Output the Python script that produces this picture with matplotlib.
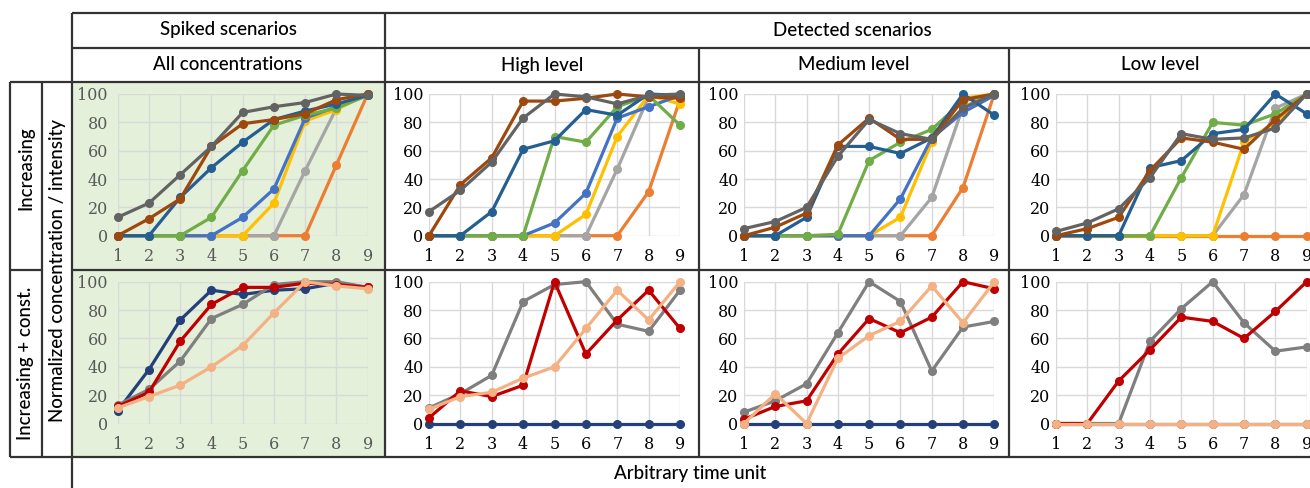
import numpy as np
import matplotlib
matplotlib.use("Agg")
import matplotlib.pyplot as plt
from matplotlib.patches import Rectangle

W, H = 1310, 488
x = [1, 2, 3, 4, 5, 6, 7, 8, 9]
nan = np.nan

# ---- Row 1 ("Increasing"): series in drawing order ----
inc_series = ["orange", "lgray", "gold", "blue", "green", "dblue", "brown", "dgray"]
inc_colors = ["#ED7D31", "#A5A5A5", "#FFC000", "#4472C4", "#70AD47", "#255E91", "#9E480E", "#636363"]

spiked_inc = [
    [0, 0, 0, 0, 0, 0, 0, 50, 100],
    [0, 0, 0, 0, 0, 0, 46, 90, 100],
    [0, 0, 0, 0, 0, 23, 81, 89, 100],
    [0, 0, 0, 0, 13, 33, 83, 91, 100],
    [0, 0, 0, 13, 46, 78, 85, 90, 99],
    [0, 0, 27, 48, 66, 82, 88, 93, 99],
    [0, 12, 26, 63, 79, 82, 86, 96, 100],
    [13, 23, 43, 63, 87, 91, 94, 100, 99],
]
high_inc = [
    [0, 0, 0, 0, 0, 0, 0, 31, 96],
    [0, 0, 0, 0, 0, 0, 47, 98, 99],
    [0, 0, 0, 0, 0, 15, 70, 99, 93],
    [0, 0, 0, 0, 9, 30, 83, 91, 99],
    [0, 0, 0, 0, 70, 66, 91, 99, 78],
    [0, 0, 17, 61, 67, 89, 85, 100, 99],
    [0, 36, 55, 95, 95, 97, 100, 98, 97],
    [17, 32, 52, 83, 100, 98, 93, 99, 100],
]
medium_inc = [
    [0, 0, 0, 0, 0, 0, 0, 34, 100],
    [0, 0, 0, 0, 0, 0, 27, 91, 100],
    [0, 0, 0, 0, 0, 13, 66, 97, 100],
    [0, 0, 0, 0, 0, 26, 69, 87, 99],
    [0, 0, 0, 1, 53, 66, 75, 95, 100],
    [0, 0, 13, 63, 63, 58, 69, 100, 85],
    [0, 6, 16, 64, 83, 68, 68, 96, 100],
    [5, 10, 20, 56, 82, 72, 68, 90, 100],
]
low_inc = [
    [0, 0, 0, 0, 0, 0, 0, 0, 0],
    [0, 0, 0, 0, 0, 0, 29, 90, 100],
    [0, 0, 0, 0, 0, 0, 66, 80, 100],
    [nan, nan, nan, nan, nan, nan, nan, nan, nan],
    [0, 0, 0, 0, 41, 80, 78, 86, 100],
    [0, 0, 0, 48, 53, 72, 75, 100, 86],
    [0, 5, 13, 46, 69, 66, 61, 82, 100],
    [3, 9, 19, 41, 72, 68, 69, 76, 100],
]

# ---- Row 2 ("Increasing + const.") ----
const_series = ["navy", "gray", "red", "salmon"]
const_colors = ["#23407A", "#7F7F7F", "#C00000", "#F4B183"]

spiked_const = [
    [9, 38, 73, 94, 91, 94, 95, 99, 96],
    [13, 24, 44, 74, 84, 98, 100, 100, 96],
    [12, 22, 58, 84, 96, 96, 99, 98, 96],
    [11, 19, 27, 40, 55, 78, 100, 97, 95],
]
high_const = [
    [0, 0, 0, 0, 0, 0, 0, 0, 0],
    [11, 21, 34, 86, 98, 100, 70, 65, 94],
    [4, 23, 19, 27, 100, 49, 73, 94, 67],
    [10, 19, 22, 32, 40, 67, 94, 73, 100],
]
medium_const = [
    [0, 0, 0, 0, 0, 0, 0, 0, 0],
    [8, 16, 28, 64, 100, 86, 37, 68, 72],
    [3, 12, 16, 49, 74, 64, 75, 100, 95],
    [0, 21, 0, 46, 62, 72, 97, 71, 100],
]
low_const = [
    [0, 0, 0, 0, 0, 0, 0, 0, 0],
    [0, 0, 0, 58, 81, 100, 71, 51, 54],
    [0, 0, 30, 52, 75, 72, 60, 79, 100],
    [0, 0, 0, 0, 0, 0, 0, 0, 0],
]

y_ticks = [0, 20, 40, 60, 80, 100]

col_headers = ["All concentrations", "High level", "Medium level", "Low level"]
top_headers = ["Spiked scenarios", "Detected scenarios"]
row_headers = ["Increasing", "Increasing + const."]
y_label = "Normalized concentration / intensity"
x_label = "Arbitrary time unit"

HEAD_FONT = ["Lato", "DejaVu Sans"]
TICK_FONT = ["DejaVu Serif"]

fig = plt.figure(figsize=(W / 100, H / 100), dpi=100)

# background / table axes in pixel coordinates
bg = fig.add_axes([0, 0, 1, 1], zorder=0)
bg.set_xlim(0, W)
bg.set_ylim(H, 0)
bg.axis("off")

# green background for spiked column
bg.add_patch(Rectangle((72, 82), 385 - 72, 457 - 82, facecolor="#E4F0DA", edgecolor="none", zorder=0))

lc = "#333333"
lw = 1.6
def hline(y, x0, x1):
    bg.plot([x0, x1], [y, y], color=lc, lw=lw, zorder=5, solid_capstyle="butt")
def vline(xx, y0, y1):
    bg.plot([xx, xx], [y0, y1], color=lc, lw=lw, zorder=5, solid_capstyle="butt")

hline(13, 72, W)
hline(48, 72, W)
hline(82, 10, W)
hline(270, 10, 42)
hline(270, 72, W)
hline(457, 10, W)
vline(10, 82, 457)
vline(42, 82, 457)
vline(72, 13, H)
vline(385, 13, 457)
vline(699, 48, 457)
vline(1009, 48, 457)

hfs = 13.5
hw = "medium"
bg.text(228, 30, top_headers[0], ha="center", va="center", fontsize=hfs, family=HEAD_FONT, weight=hw)
bg.text(852, 30, top_headers[1], ha="center", va="center", fontsize=hfs, family=HEAD_FONT, weight=hw)
for cx, t in zip([228, 542, 854, 1160], col_headers):
    bg.text(cx, 65, t, ha="center", va="center", fontsize=hfs, family=HEAD_FONT, weight=hw)
bg.text(26, 168, row_headers[0], ha="center", va="center", rotation=90, fontsize=hfs, family=HEAD_FONT, weight=hw)
bg.text(26, 363, row_headers[1], ha="center", va="center", rotation=90, fontsize=hfs, family=HEAD_FONT, weight=hw)
bg.text(57, 270, y_label, ha="center", va="center", rotation=90, fontsize=hfs, family=HEAD_FONT, weight=hw)
bg.text(690, 473, x_label, ha="center", va="center", fontsize=hfs, family=HEAD_FONT, weight=hw)

# panel geometry (pixels)
col_x = [(117.7, 367.7), (429.0, 680.0), (744.0, 994.3), (1056.0, 1306.7)]
row_y = [(94.0, 235.7), (281.7, 423.5)]

panels = [
    [spiked_inc, high_inc, medium_inc, low_inc],
    [spiked_const, high_const, medium_const, low_const],
]
colors_rows = [inc_colors, const_colors]

for r in range(2):
    for c in range(4):
        x0, x1 = col_x[c]
        y0, y1 = row_y[r]
        ax = fig.add_axes([x0 / W, 1 - y1 / H, (x1 - x0) / W, (y1 - y0) / H], zorder=2)
        ax.patch.set_alpha(0)
        for s in ax.spines.values():
            s.set_visible(False)
        ax.set_xlim(1, 9)
        ax.set_ylim(0, 100)
        ax.set_xticks(x)
        ax.set_yticks(y_ticks)
        ax.grid(True, color="#D9D9D9", lw=1.0, zorder=0)
        ax.set_axisbelow(True)
        tcol = "#595959" if c == 0 else "black"
        ax.tick_params(length=0, labelsize=11.5, labelcolor=tcol)
        ax.tick_params(axis="x", pad=9)
        ax.tick_params(axis="y", pad=4 if c else 7)
        for lab in ax.get_xticklabels() + ax.get_yticklabels():
            lab.set_family(TICK_FONT)
        for vals, col in zip(panels[r][c], colors_rows[r]):
            ax.plot(x, vals, color=col, lw=2.3, marker="o", ms=5.5, clip_on=False, zorder=3)

fig.savefig("out.png", dpi=100)
